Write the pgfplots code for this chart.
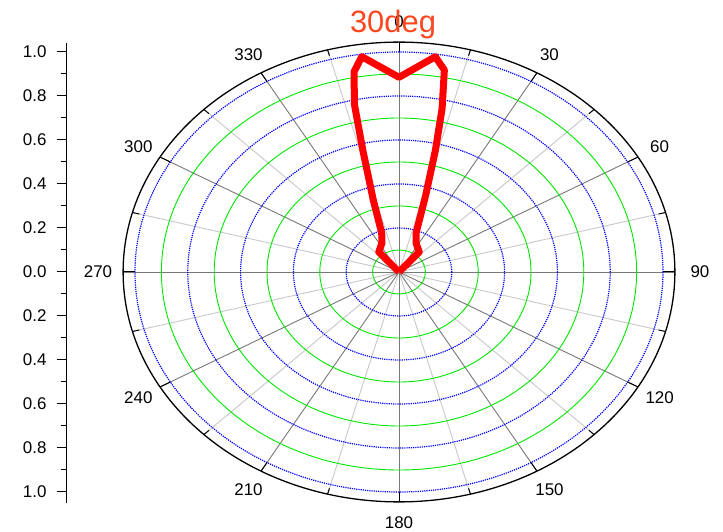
\documentclass[border=0pt]{standalone}
\usepackage{fontspec}
\setmainfont{Liberation Sans}
\usepackage{pgfplots}
\pgfplotsset{compat=1.18}
\usepgfplotslibrary{polar}
\definecolor{ringgreen}{RGB}{0,230,0}
\definecolor{ringblue}{RGB}{0,0,255}
\definecolor{titlered}{RGB}{255,70,30}
\definecolor{spokedark}{RGB}{120,120,120}
\definecolor{spokelight}{RGB}{200,200,200}
\begin{document}
\begin{tikzpicture}
\useasboundingbox (0,0) rectangle (723bp,532bp);
\begin{scope}[shift={(399bp,260bp)}, x=264bp, y=220bp]
  % light spokes
  \foreach \a in {15,45,...,345}
    \draw[spokelight, line width=0.9bp] (0,0) -- ({1.045*cos(\a)},{1.045*sin(\a)});
  % dark spokes
  \foreach \a in {0,30,...,330}
    \draw[spokedark, line width=0.9bp] (0,0) -- ({1.045*cos(\a)},{1.045*sin(\a)});
  % rings
  \foreach \i in {1,...,10} {
    \pgfmathsetlengthmacro\rx{26.4bp*\i}
    \pgfmathsetlengthmacro\ry{22bp*\i}
    \ifodd\i
      \draw[ringgreen, line width=0.9bp] (0,0) ellipse [x radius=\rx, y radius=\ry];
    \else
      \draw[ringblue, line width=1.2bp, dash pattern=on 1.2bp off 1bp] (0,0) ellipse [x radius=\rx, y radius=\ry];
    \fi
  }
  % outer ring
  \draw[black, line width=1.3bp] (0,0) ellipse [x radius=275.9bp, y radius=229.9bp];
  % ticks on outer ring
  \foreach \a in {0,30,...,330}
    \draw[black, line width=1bp] ({1.0*cos(\a)},{1.0*sin(\a)}) -- ({1.045*cos(\a)},{1.045*sin(\a)});
  \foreach \a in {15,45,...,345}
    \draw[black, line width=1bp] ({1.018*cos(\a)},{1.018*sin(\a)}) -- ({1.045*cos(\a)},{1.045*sin(\a)});
  % angle labels
  \foreach \c in {0,30,...,330} {
    \pgfmathsetmacro\m{90-\c}
    \node[font=\fontsize{17}{17}\selectfont, inner sep=0pt] at ({1.14*cos(\m)},{1.14*sin(\m)}) {\c};
  }
\end{scope}
\node[font=\fontsize{31}{31}\selectfont, text=titlered, anchor=base, inner sep=0pt] at (393bp,499bp) {30deg};

% data curve
\begin{axis}[at={(399bp,260bp)}, anchor=origin, x=264bp, y=220bp,
  xmin=-1.2, xmax=1.2, ymin=-1.1, ymax=1.1, hide axis, clip=false]
\addplot[red, line width=7bp, line join=round, data cs=polar] coordinates {
  (90,0)
  (130,0.119)
  (116,0.147)
  (110.3,0.189)
  (106.6,0.341)
  (103.9,0.571)
  (102.5,0.780)
  (100.6,0.926)
  (98.2,0.989)
  (90,0.885)
  (82,0.988)
  (79.4,0.934)
  (77.6,0.760)
  (76,0.570)
  (73.8,0.360)
  (70,0.190)
  (64,0.147)
  (50,0.119)
  (90,0)
};
\end{axis}

% left scale axis
\begin{axis}[at={(66.7bp,260bp)}, anchor=origin, scale only axis,
  width=1bp, y=220bp, xmin=0, xmax=1, ymin=-1.05, ymax=1.041,
  axis y line=left, axis x line=none, axis line style={-, line width=1bp},
  ytick={-1,-0.8,-0.6,-0.4,-0.2,0,0.2,0.4,0.6,0.8,1},
  yticklabels={1.0,0.8,0.6,0.4,0.2,0.0,0.2,0.4,0.6,0.8,1.0},
  minor ytick={-0.9,-0.7,-0.5,-0.3,-0.1,0.1,0.3,0.5,0.7,0.9},
  tick align=outside, major tick length=10bp, minor tick length=6bp,
  every tick/.style={black, line width=1bp},
  /pgf/number format/assume math mode=true,
  yticklabel style={font=\fontsize{17}{17}\selectfont, inner sep=0pt, xshift=-10bp},
  clip=false]
\addplot[draw=none] coordinates {(0,0)};
\end{axis}
\end{tikzpicture}
\end{document}
